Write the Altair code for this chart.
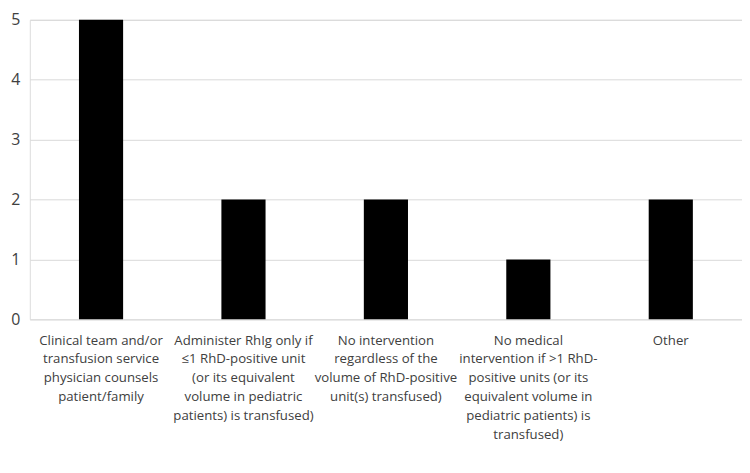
import altair as alt
import pandas as pd

categories = [
    "Clinical team and/or|transfusion service|physician counsels|patient/family",
    "Administer RhIg only if|≤1 RhD-positive unit|(or its equivalent|volume in pediatric|patients) is transfused)",
    "No intervention|regardless of the|volume of RhD-positive|unit(s) transfused)",
    "No medical|intervention if >1 RhD-|positive units (or its|equivalent volume in|pediatric patients) is|transfused)",
    "Other",
]
values = [5, 2, 2, 1, 2]

df = pd.DataFrame({"category": categories, "count": values})

FONT = "Open Sans"

chart = alt.Chart(df).mark_bar(color="#000000").encode(
    x=alt.X("category:N", sort=None, title=None,
            scale=alt.Scale(paddingInner=0.69, paddingOuter=0.345),
            axis=alt.Axis(labelAngle=0, labelExpr="split(datum.label, '|')",
                          labelFont=FONT, labelFontSize=13.3, labelColor="#404040",
                          labelLineHeight=19, labelPadding=14, ticks=False, domain=False,
                          labelLimit=200)),
    y=alt.Y("count:Q", title=None,
            scale=alt.Scale(domain=[0, 5]),
            axis=alt.Axis(values=[0, 1, 2, 3, 4, 5], format="d", ticks=False, domain=False,
                          labelFont=FONT, labelFontSize=16, labelColor="#404040",
                          labelPadding=10, gridColor="#d9d9d9", gridWidth=1)),
).properties(
    width=718, height=302,
    autosize=alt.AutoSizeParams(type="none"),
    padding={"left": 22, "top": 10, "right": 0, "bottom": 153},
).configure_view(stroke=None).configure(background="white")

chart.save("out.html", embed_options={"renderer": "svg", "actions": False})
